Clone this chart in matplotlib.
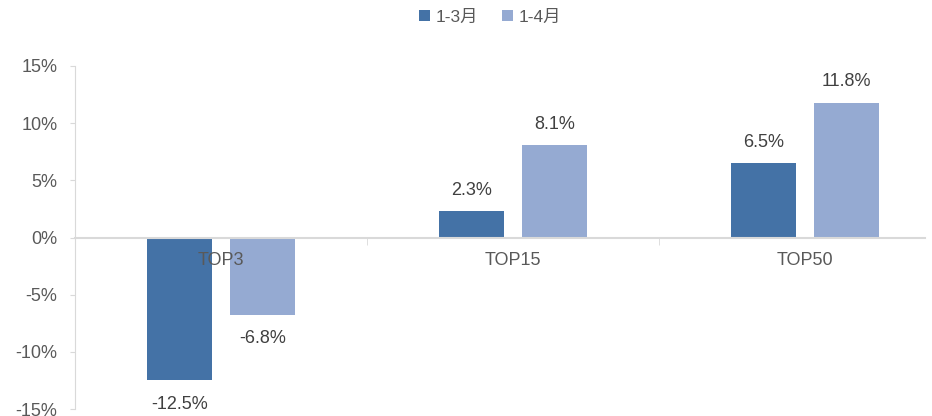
import numpy as np
import matplotlib
matplotlib.use('Agg')
import matplotlib.pyplot as plt
from matplotlib.ticker import FixedLocator, FuncFormatter

plt.rcParams['font.family'] = ['Liberation Sans', 'Noto Sans CJK SC', 'DejaVu Sans']

# growth by group, in percent
categories = ['TOP3', 'TOP15', 'TOP50']
series_names = ['1-3月', '1-4月']
jan_mar = [-12.5, 2.3, 6.5]
jan_apr = [-6.8, 8.1, 11.8]

colors = ['#4472A6', '#95AAD2']
grey = '#D9D9D9'
text_col = '#595959'
fs = 13

fig = plt.figure(figsize=(9.32, 4.16), dpi=100)
# axes spans 75..951 px horizontally, 66..409 px vertically
ax = fig.add_axes([75 / 932, 7 / 416, 876 / 932, 343 / 416])

x = np.arange(len(categories))
w = 0.223
off = 0.143
bars1 = ax.bar(x - off, jan_mar, w, color=colors[0], label=series_names[0])
bars2 = ax.bar(x + off, jan_apr, w, color=colors[1], label=series_names[1])

for bars, vals in [(bars1, jan_mar), (bars2, jan_apr)]:
    for b, v in zip(bars, vals):
        dy = 15 if v >= 0 else -17
        ax.annotate(f'{v:.1f}%', (b.get_x() + b.get_width() / 2, v),
                    xytext=(0, dy), textcoords='offset points',
                    ha='center', va='center', fontsize=fs, color='#404040')

ax.set_xlim(-0.5, 2.5)
ax.set_ylim(-15, 15)

for s in ['top', 'right']:
    ax.spines[s].set_visible(False)
ax.spines['left'].set_color(grey)
ax.spines['bottom'].set_color(grey)
ax.spines['bottom'].set_linewidth(1.5)
ax.spines['bottom'].set_position(('data', 0))
ax.spines['bottom'].set_bounds(-0.5, 2.41)

ax.yaxis.set_major_locator(FixedLocator(np.arange(-15, 16, 5)))
ax.yaxis.set_major_formatter(FuncFormatter(lambda v, p: f'{v:.0f}%'))
ax.tick_params(axis='y', colors=grey, labelcolor=text_col, labelsize=fs,
               length=3.6, pad=9)

ax.set_xticks(x)
ax.set_xticklabels(categories)
ax.set_xticks([0.5, 1.5], minor=True)
ax.tick_params(axis='x', which='major', length=0, pad=10.5,
               labelcolor=text_col, labelsize=fs)
ax.tick_params(axis='x', which='minor', length=5, color=grey, direction='out')

fig.legend(handles=[bars1, bars2], labels=series_names,
           loc='center', bbox_to_anchor=(490 / 932, 1 - 17 / 416), ncol=2,
           frameon=False, fontsize=12.5, handlelength=0.65, handleheight=0.65,
           handletextpad=0.3, columnspacing=1.4, labelcolor=text_col)

fig.savefig('out.png', dpi=100)
